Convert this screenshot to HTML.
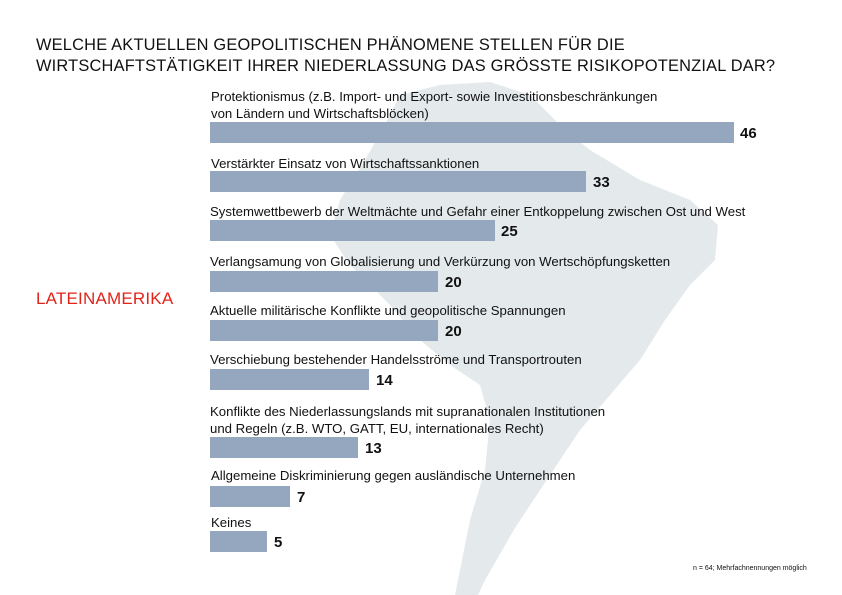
<!DOCTYPE html>
<html><head><meta charset="utf-8"><style>
body{margin:0;width:842px;height:595px;background:#fff;position:relative;overflow:hidden;font-family:"Liberation Sans",sans-serif;}
.t{position:absolute;left:36px;top:35px;font-size:16.4px;line-height:21px;color:#111;letter-spacing:0.2px;}
.l{position:absolute;font-size:13.2px;color:#111;line-height:17px;white-space:nowrap;}
.b{position:absolute;left:210px;height:21px;background:#95a6bf;}
.n{position:absolute;font-size:15px;font-weight:bold;color:#111;}
</style></head><body>
<svg width="842" height="595" style="position:absolute;left:0;top:0">
<path d="M400,95 L440,85 L490,82 L530,95 L565,130 L590,150 L640,180 L690,200 L718,225 L715,260 L690,285 L665,320 L640,360 L610,395 L580,430 L548,478 L515,528 L485,580 L478,595 L455,595 L462,560 L470,520 L485,470 L490,420 L480,385 L450,365 L420,340 L390,305 L350,265 L330,235 L340,200 L365,160 L385,125 Z" fill="#e4e9eb"/>
</svg>
<div class="t">WELCHE AKTUELLEN GEOPOLITISCHEN PHÄNOMENE STELLEN FÜR DIE<br>WIRTSCHAFTSTÄTIGKEIT IHRER NIEDERLASSUNG DAS GRÖSSTE RISIKOPOTENZIAL DAR?</div>
<div style="position:absolute;left:36px;top:289px;font-size:17px;color:#e2231a;letter-spacing:0.2px">LATEINAMERIKA</div>

<div class="l" style="left:211px;top:88px">Protektionismus (z.B. Import- und Export- sowie Investitionsbeschränkungen<br>von Ländern und Wirtschaftsblöcken)</div>
<div class="b" style="top:122px;width:524px"></div><div class="n" style="left:740px;top:125px">46</div>

<div class="l" style="left:211px;top:155px">Verstärkter Einsatz von Wirtschaftssanktionen</div>
<div class="b" style="top:171px;width:376px"></div><div class="n" style="left:593px;top:174px">33</div>

<div class="l" style="left:210px;top:203px">Systemwettbewerb der Weltmächte und Gefahr einer Entkoppelung zwischen Ost und West</div>
<div class="b" style="top:220px;width:285px"></div><div class="n" style="left:501px;top:223px">25</div>

<div class="l" style="left:210px;top:253px">Verlangsamung von Globalisierung und Verkürzung von Wertschöpfungsketten</div>
<div class="b" style="top:271px;width:228px"></div><div class="n" style="left:445px;top:274px">20</div>

<div class="l" style="left:210px;top:302px">Aktuelle militärische Konflikte und geopolitische Spannungen</div>
<div class="b" style="top:320px;width:228px"></div><div class="n" style="left:445px;top:323px">20</div>

<div class="l" style="left:210px;top:351px">Verschiebung bestehender Handelsströme und Transportrouten</div>
<div class="b" style="top:369px;width:159px"></div><div class="n" style="left:376px;top:372px">14</div>

<div class="l" style="left:210px;top:403px">Konflikte des Niederlassungslands mit supranationalen Institutionen<br>und Regeln (z.B. WTO, GATT, EU, internationales Recht)</div>
<div class="b" style="top:437px;width:148px"></div><div class="n" style="left:365px;top:440px">13</div>

<div class="l" style="left:211px;top:467px">Allgemeine Diskriminierung gegen ausländische Unternehmen</div>
<div class="b" style="top:486px;width:80px"></div><div class="n" style="left:297px;top:489px">7</div>

<div class="l" style="left:211px;top:514px">Keines</div>
<div class="b" style="top:531px;width:57px"></div><div class="n" style="left:274px;top:534px">5</div>

<div style="position:absolute;left:693px;top:565px;font-size:7px;color:#111">n = 64; Mehrfachnennungen möglich</div>
</body></html>
